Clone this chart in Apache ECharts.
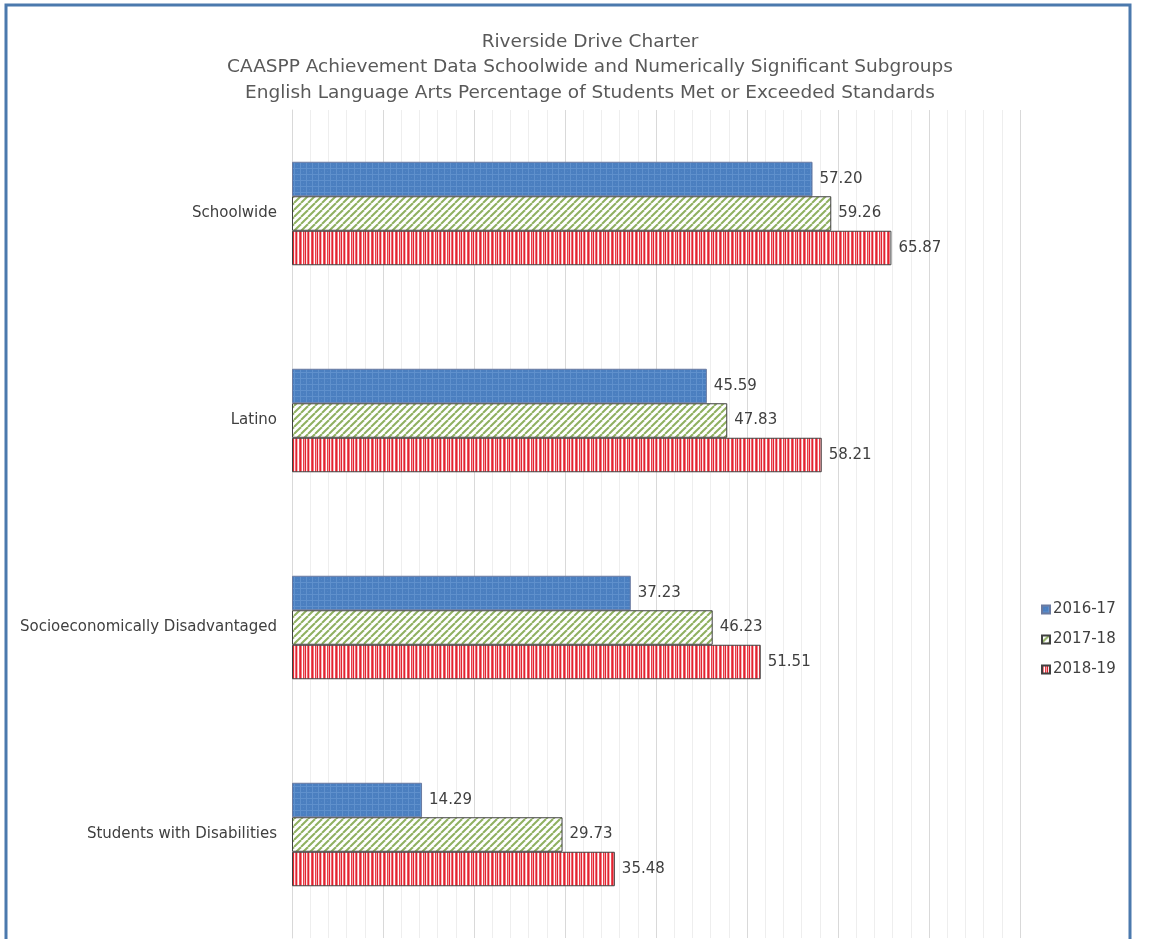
<!DOCTYPE html>
<html><head><meta charset="utf-8">
<script src="https://cdn.jsdelivr.net/npm/echarts@6/dist/echarts.min.js"></script>
<style>html,body{margin:0;padding:0;background:#fff}#c{width:1171px;height:939px}</style>
</head><body><div id="c"></div>
<script>
const titleLines = ['Riverside Drive Charter','CAASPP Achievement Data Schoolwide and Numerically Significant Subgroups','English Language Arts Percentage of Students Met or Exceeded Standards'];
const categories = ['Schoolwide','Latino','Socioeconomically Disadvantaged','Students with Disabilities'];
const seriesNames = ['2016-17','2017-18','2018-19'];
const values2016 = [57.20, 45.59, 37.23, 14.29];
const values2017 = [59.26, 47.83, 46.23, 29.73];
const values2018 = [65.87, 58.21, 51.51, 35.48];

function mk(w,h,draw){const c=document.createElement('canvas');c.width=w;c.height=h;const g=c.getContext('2d');draw(g,w,h);return {image:c,repeat:'repeat'};}
const bluePat = mk(6,6,(g)=>{g.fillStyle='#4b7fc0';g.fillRect(0,0,6,6);g.fillStyle='#5f90cc';g.fillRect(0,0,6,1);g.fillRect(0,0,1,6);g.fillStyle='#5587c6';g.fillRect(3,3,1,1);});
const greenPat = mk(7,7,(g)=>{g.fillStyle='#ffffff';g.fillRect(0,0,7,7);g.strokeStyle='#8fb060';g.lineWidth=2;for(let k=-7;k<=14;k+=7){g.beginPath();g.moveTo(k,7);g.lineTo(k+7,0);g.stroke();}});
const redPat = mk(12,4,(g)=>{const cols=['#e2232f','#f07d85','#ffffff','#e83a46','#f4a0a6','#e2232f','#fde4e6','#ee6a74','#e2232f','#f6b4b9','#ffffff','#ec505b'];cols.forEach((c,i)=>{g.fillStyle=c;g.fillRect(i,0,1,4);});});
const pats=[bluePat,greenPat,redPat];
const borders=['#6a7aa0','#404040','#404040'];
const data=[values2016,values2017,values2018];

const chart = echarts.init(document.getElementById('c'));
chart.setOption({
  animation:false,
  backgroundColor:'#ffffff',
  textStyle:{fontFamily:'DejaVu Sans'},
  title:{text:titleLines.join('\n'),left:585,top:24,textAlign:'center',textStyle:{fontFamily:'DejaVu Sans',fontSize:18.5,fontWeight:'normal',color:'#595959',lineHeight:25.5}},
  legend:{orient:'vertical',left:1036,top:597,itemWidth:8,itemHeight:8,itemGap:15,icon:'rect',
    textStyle:{fontFamily:'DejaVu Sans',fontSize:15,color:'#404040',padding:[0,0,0,-2]},data:seriesNames},
  grid:{left:292,right:151,top:110,bottom:1,containLabel:false},
  xAxis:{type:'value',min:0,max:80,interval:10,axisLabel:{show:false},axisLine:{show:false},axisTick:{show:false},
    splitLine:{show:true,lineStyle:{color:'#d9d9d9',width:1}},
    minorTick:{show:false,splitNumber:5},minorSplitLine:{show:true,lineStyle:{color:'#eeeeee',width:1}}},
  yAxis:{type:'category',data:categories,inverse:true,axisLine:{show:true,lineStyle:{color:'#d9d9d9'}},axisTick:{show:false},
    axisLabel:{margin:15,fontFamily:'DejaVu Sans',fontSize:15,color:'#404040'}},
  graphic:[{type:'rect',shape:{x:6,y:5,width:1124,height:960},style:{fill:'none',stroke:'#4b79ad',lineWidth:3},z:100}],
  series: seriesNames.map((n,i)=>({name:n,type:'bar',data:data[i],barGap:'0%',barCategoryGap:'50%',
    itemStyle:{color:pats[i],borderColor:borders[i],borderWidth:1},
    label:{show:true,position:'right',distance:7,formatter:p=>p.value.toFixed(2),fontFamily:'DejaVu Sans',fontSize:15,color:'#404040'}}))
});
</script></body></html>
